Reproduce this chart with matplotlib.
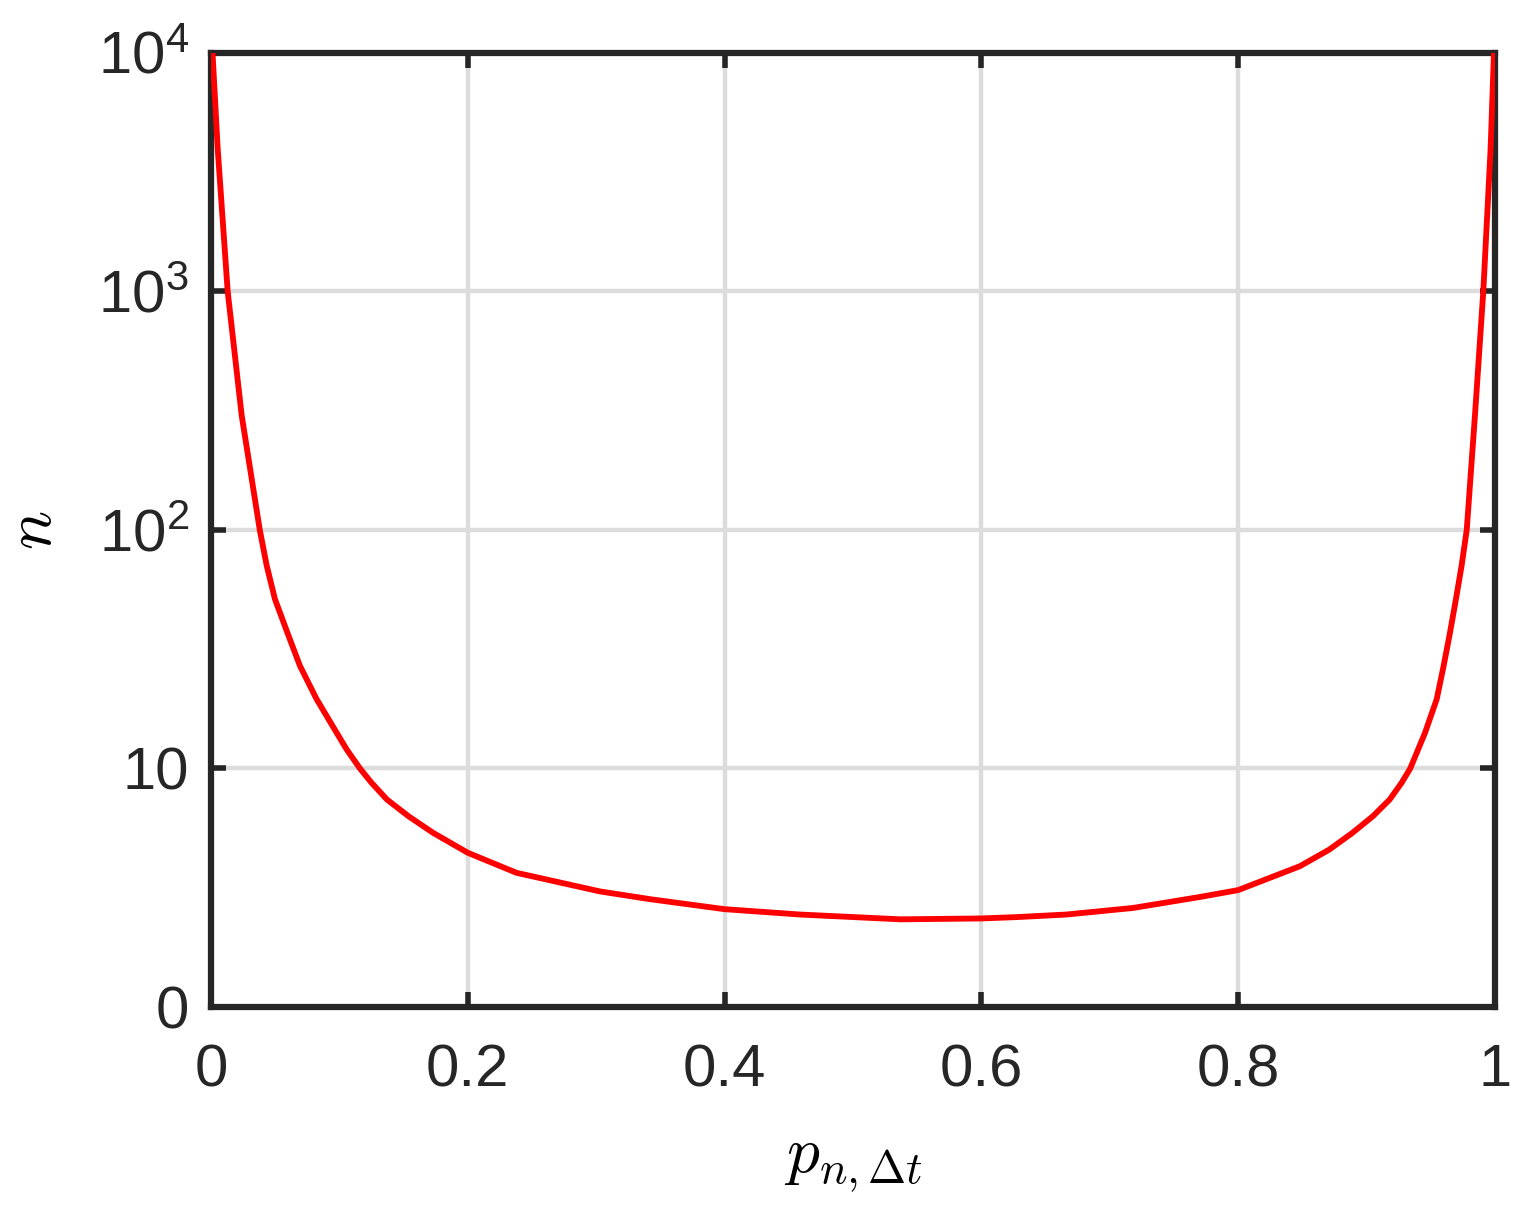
import numpy as np
import matplotlib
matplotlib.use("Agg")
import matplotlib.pyplot as plt

# values: probability vs. required n
p_vals = [0.0012, 0.0052, 0.013, 0.0239, 0.038, 0.0434, 0.0498, 0.0594,
          0.0693, 0.0823, 0.0979, 0.1057, 0.116, 0.125, 0.137, 0.1537,
          0.173, 0.2, 0.238, 0.303, 0.342, 0.4, 0.459, 0.537, 0.6, 0.627,
          0.666, 0.718, 0.77, 0.8, 0.848, 0.871, 0.889, 0.905, 0.918,
          0.9273, 0.934, 0.9455, 0.9546, 0.960, 0.965, 0.9696, 0.974,
          0.978, 0.9844, 0.9909, 0.9966, 0.9992]
n_vals = [10000, 3980, 1000, 302, 100, 70.8, 51.3, 37.2,
          26.9, 19.5, 14.1, 12.0, 10.0, 8.71, 7.41, 6.31,
          5.37, 4.43, 3.65, 3.05, 2.83, 2.57, 2.44, 2.33, 2.35, 2.38,
          2.44, 2.60, 2.89, 3.09, 3.89, 4.57, 5.37, 6.31, 7.41,
          8.71, 10.0, 14.1, 19.5, 26.9, 37.2, 51.3, 70.8,
          100, 302, 1000, 3980, 10000]

y_ticks = [0, 1, 2, 3, 4]
y_ticklabels = ["0", "10", r"$\mathregular{10^2}$", r"$\mathregular{10^3}$",
                r"$\mathregular{10^4}$"]
x_ticks = [0, 0.2, 0.4, 0.6, 0.8, 1]
x_ticklabels = ["0", "0.2", "0.4", "0.6", "0.8", "1"]

plt.rcParams["font.family"] = ["Liberation Sans", "DejaVu Sans"]
plt.rcParams["mathtext.fontset"] = "cm"

axis_col = "#262626"

fig = plt.figure(figsize=(15.39, 12.11), dpi=100)
ax = fig.add_axes([0.1371, 0.1685, 0.8343, 0.7878])

ax.plot(p_vals, np.log10(n_vals), color="red", lw=4.2, zorder=3,
        solid_joinstyle="round")

ax.set_xlim(0, 1)
ax.set_ylim(0, 4)
ax.set_xticks(x_ticks)
ax.set_xticklabels(x_ticklabels)
ax.set_yticks(y_ticks)
ax.set_yticklabels(y_ticklabels)

ax.grid(True, color="#dcdcdc", lw=3.2, zorder=0)
ax.set_axisbelow(True)

for s in ax.spines.values():
    s.set_linewidth(4.5)
    s.set_color(axis_col)

ax.tick_params(direction="in", length=11, width=4, colors=axis_col,
               labelsize=43, top=True, right=True)
ax.tick_params(axis="x", pad=26)
ax.tick_params(axis="y", pad=16)

ax.set_xlabel(r"$p_{n,\Delta t}$", fontsize=47, color="black", labelpad=26)
ax.set_ylabel(r"$n$", fontsize=47, color="black", labelpad=24)

fig.savefig("out.png", dpi=100)
